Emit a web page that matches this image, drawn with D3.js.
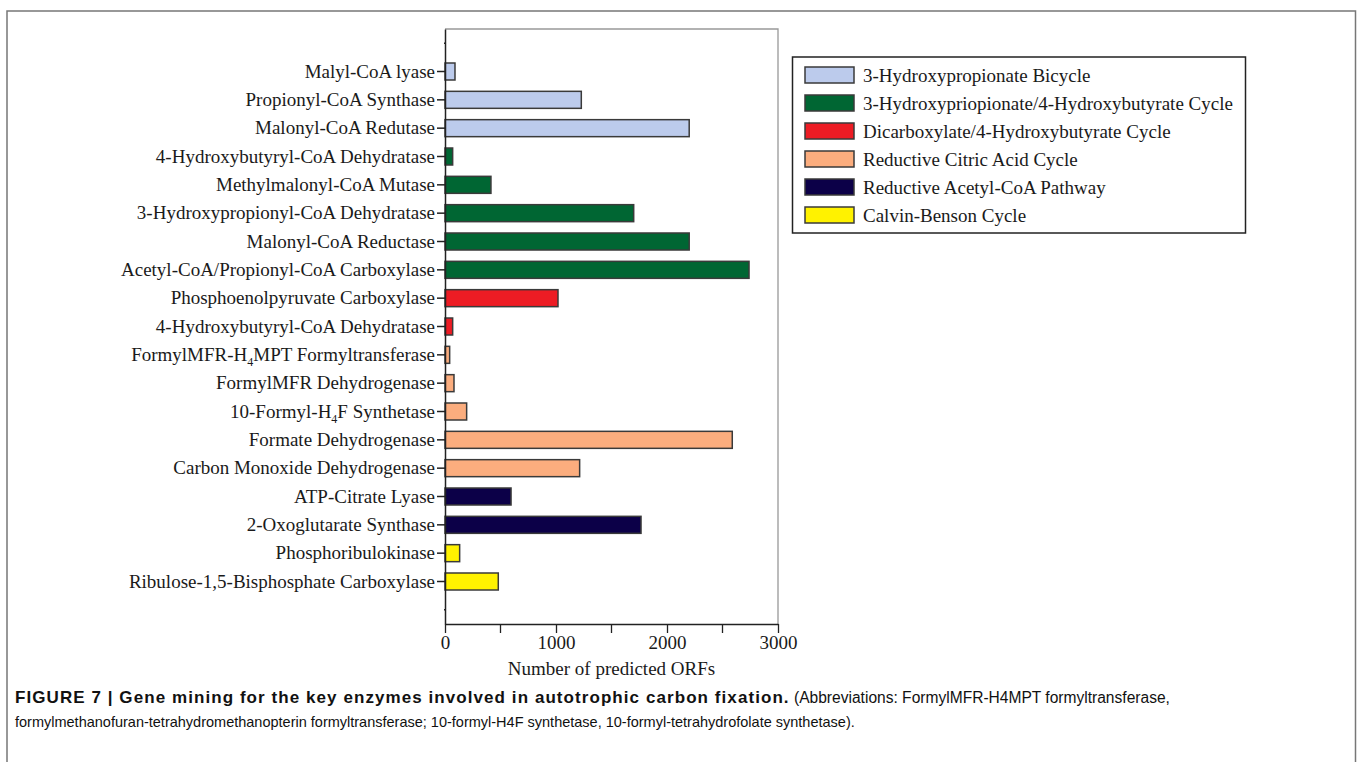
<!DOCTYPE html>
<html>
<head>
<meta charset="utf-8">
<script src="https://cdn.jsdelivr.net/npm/d3@7"></script>
<style>
  html, body { margin: 0; padding: 0; background: #fff; }
  svg { display: block; }
</style>
</head>
<body>
<svg id="chart" width="1358" height="762"></svg>
<script>
// ---- data ----
const categories = [
  "Malyl-CoA lyase",
  "Propionyl-CoA Synthase",
  "Malonyl-CoA Redutase",
  "4-Hydroxybutyryl-CoA Dehydratase",
  "Methylmalonyl-CoA Mutase",
  "3-Hydroxypropionyl-CoA Dehydratase",
  "Malonyl-CoA Reductase",
  "Acetyl-CoA/Propionyl-CoA Carboxylase",
  "Phosphoenolpyruvate Carboxylase",
  "4-Hydroxybutyryl-CoA Dehydratase",
  "FormylMFR-H_4MPT Formyltransferase",
  "FormylMFR Dehydrogenase",
  "10-Formyl-H_4F Synthetase",
  "Formate Dehydrogenase",
  "Carbon Monoxide Dehydrogenase",
  "ATP-Citrate Lyase",
  "2-Oxoglutarate Synthase",
  "Phosphoribulokinase",
  "Ribulose-1,5-Bisphosphate Carboxylase"
];
const values = [90, 1228, 2200, 69, 414, 1700, 2200, 2739, 1018, 69, 42, 81, 195, 2588, 1213, 595, 1766, 132, 480];
const pathwayOfBar = [0, 0, 0, 1, 1, 1, 1, 1, 2, 2, 3, 3, 3, 3, 3, 4, 4, 5, 5];
const pathways = [
  "3-Hydroxypropionate Bicycle",
  "3-Hydroxypriopionate/4-Hydroxybutyrate Cycle",
  "Dicarboxylate/4-Hydroxybutyrate Cycle",
  "Reductive Citric Acid Cycle",
  "Reductive Acetyl-CoA Pathway",
  "Calvin-Benson Cycle"
];
const pathwayColors = ["#bccbec", "#006633", "#ed1c24", "#fbad7e", "#0c0048", "#fff200"];
const xTicks = [0, 1000, 2000, 3000];
const xMinorTicks = [500, 1500, 2500];
const xTitle = "Number of predicted ORFs";
const captionBold = "FIGURE 7 | Gene mining for the key enzymes involved in autotrophic carbon fixation.";
const captionRest1 = "(Abbreviations: FormylMFR-H4MPT formyltransferase,";
const captionLine2 = "formylmethanofuran-tetrahydromethanopterin formyltransferase; 10-formyl-H4F synthetase, 10-formyl-tetrahydrofolate synthetase).";

// ---- layout ----
const svg = d3.select("#chart");
const serif = "'Liberation Serif', 'Times New Roman', serif";
const sans = "'Liberation Sans', Arial, sans-serif";
const FS = 19;

// outer frame (open at bottom)
svg.append("path")
  .attr("d", "M7,775 L7,11 L1355.5,11 L1355.5,775")
  .attr("fill", "none").attr("stroke", "#777").attr("stroke-width", 1.5);

const plot = { left: 445, right: 778, top: 29, bottom: 624 };

const x = d3.scaleLinear().domain([0, 3000]).range([plot.left, plot.right]);
const slots = ["_top", ...categories.map((c, i) => i), "_bot"];
const y = d3.scaleBand().domain(slots).range([plot.top, plot.bottom]).paddingInner(0.4).paddingOuter(0.2);

const g = svg.append("g");

g.append("path")
  .attr("d", `M${plot.left},${plot.top} L${plot.right},${plot.top} L${plot.right},${plot.bottom}`)
  .attr("fill", "none").attr("stroke", "#999").attr("stroke-width", 1.3);

// bars
g.selectAll("rect.bar").data(values).join("rect")
  .attr("class", "bar")
  .attr("x", x(0))
  .attr("y", (d, i) => y(i))
  .attr("width", d => x(d) - x(0))
  .attr("height", y.bandwidth())
  .attr("fill", (d, i) => pathwayColors[pathwayOfBar[i]])
  .attr("stroke", "#3a3a3a")
  .attr("stroke-width", 1.5);

// y axis
const yAxis = d3.axisLeft(y).tickSize(8).tickSizeOuter(0).tickFormat(() => "");
const yg = g.append("g").attr("transform", `translate(${plot.left},0)`).call(yAxis);
yg.select(".domain").attr("stroke", "#222").attr("stroke-width", 1.5);
yg.selectAll(".tick line").attr("stroke", "#222").attr("stroke-width", 1.5)
  .attr("x2", d => (typeof d === "string") ? -1 : -8);

yg.selectAll(".tick").each(function(d) {
  if (typeof d === "string") return;
  const label = categories[d];
  const t = d3.select(this).append("text")
    .attr("x", -10).attr("dy", "0.33em")
    .attr("text-anchor", "end")
    .attr("fill", "#1a1a1a")
    .style("font-family", serif).style("font-size", FS + "px");
  const parts = label.split("_");
  t.append("tspan").text(parts[0]);
  for (let k = 1; k < parts.length; k++) {
    t.append("tspan").attr("dy", 5).style("font-size", "12px").text(parts[k][0]);
    t.append("tspan").attr("dy", -5).text(parts[k].slice(1));
  }
});

// x axis
const xAxis = d3.axisBottom(x).tickValues(xTicks).tickSize(9).tickSizeOuter(0).tickFormat(d3.format("d"));
const xg = g.append("g").attr("transform", `translate(0,${plot.bottom})`).call(xAxis);
xg.select(".domain").attr("stroke", "#222").attr("stroke-width", 1.5);
xg.selectAll(".tick line").attr("stroke", "#222").attr("stroke-width", 1.3);
xg.selectAll(".tick text").attr("fill", "#1a1a1a").attr("y", 12).attr("dy", "0.71em")
  .style("font-family", serif).style("font-size", FS + "px");
xg.selectAll("line.minor").data(xMinorTicks).join("line")
  .attr("class", "minor")
  .attr("x1", d => x(d)).attr("x2", d => x(d))
  .attr("y1", 0).attr("y2", 9)
  .attr("stroke", "#222").attr("stroke-width", 1.3);

g.append("text")
  .attr("x", (plot.left + plot.right) / 2).attr("y", 675)
  .attr("text-anchor", "middle").attr("fill", "#1a1a1a")
  .style("font-family", serif).style("font-size", FS + "px")
  .text(xTitle);

// legend
const leg = svg.append("g");
leg.append("rect").attr("x", 792.5).attr("y", 57).attr("width", 453).attr("height", 176)
  .attr("fill", "#fff").attr("stroke", "#222").attr("stroke-width", 1.5);
const legY = d3.scalePoint().domain(pathways).range([75, 215]);
pathways.forEach((p, i) => {
  leg.append("rect")
    .attr("x", 805).attr("y", legY(p) - 8).attr("width", 49).attr("height", 16)
    .attr("fill", pathwayColors[i]).attr("stroke", "#3a3a3a").attr("stroke-width", 1.5);
  leg.append("text")
    .attr("x", 863).attr("y", legY(p)).attr("dy", "0.35em")
    .attr("fill", "#1a1a1a")
    .style("font-family", serif).style("font-size", FS + "px")
    .text(p);
});

// caption
function fitWidth(sel, target, base) {
  const w = sel.node().getComputedTextLength();
  sel.style("font-size", (base * target / w).toFixed(2) + "px");
}
const capB = svg.append("text").attr("x", 15).attr("y", 703)
  .style("font-family", sans).style("font-weight", "bold").style("font-size", "17px")
  .attr("fill", "#111").text(captionBold);
{
  const w = capB.node().getComputedTextLength();
  const ls = Math.max(0, (775 - w) / captionBold.length);
  capB.style("letter-spacing", ls.toFixed(2) + "px");
}
const capR = svg.append("text").attr("x", 794).attr("y", 703)
  .style("font-family", sans).style("font-size", "15px")
  .attr("fill", "#111").text(captionRest1);
fitWidth(capR, 376, 15);
const cap2 = svg.append("text").attr("x", 15).attr("y", 727)
  .style("font-family", sans).style("font-size", "15px")
  .attr("fill", "#111").text(captionLine2);
fitWidth(cap2, 840, 15);
</script>
</body>
</html>
